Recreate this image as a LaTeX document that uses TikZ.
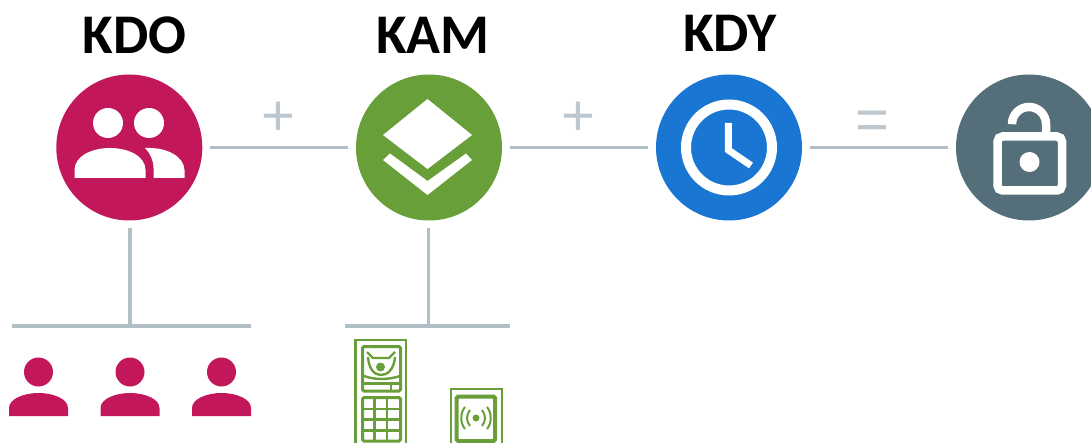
\documentclass[tikz,border=0pt]{standalone}
\usepackage{fontspec}
\setmainfont{Carlito}
\newfontfamily\opfont{Liberation Sans}
\definecolor{crim}{HTML}{C2185B}
\definecolor{leaf}{HTML}{689F38}
\definecolor{azure}{HTML}{1976D2}
\definecolor{slate}{HTML}{546E7A}
\definecolor{rule}{HTML}{B0BEC5}
\tikzset{
  badge/.style={circle,minimum size=146pt,inner sep=0pt,outer sep=8pt,fill=#1},
  title/.style={font=\fontsize{56}{56}\selectfont\bfseries,text=black,inner sep=0pt,anchor=base},
  oper/.style={font=\opfont\fontsize{58}{58}\selectfont,text=rule!85,inner sep=0pt},
  link/.style={draw=rule,line width=3.5pt},
  devouter/.style={draw=leaf,line width=2.6pt},
  devline/.style={draw=leaf,line width=3pt,rounded corners=1.5pt},
  devthin/.style={draw=leaf,line width=2.4pt},
  wave/.style={draw=leaf,line width=2pt},
}
\begin{document}
\begin{tikzpicture}[x=1pt,y=-1pt]
\useasboundingbox (0,0) rectangle (1091,443);
% badges
\node[badge=crim]  (kdo)  at (129.3,147.5) {};
\node[badge=leaf]  (kam)  at (429,147.5) {};
\node[badge=azure] (kdy)  at (729,147.5) {};
\node[badge=slate] (lock) at (1029,147.5) {};
% titles
\node[title] (tkdo) at (134.5,54) {KDO};
\node[title] (tkam) at (433,54) {KAM};
\node[title] (tkdy) at (730,52) {KDY};
% operators
\node[oper] (p1) at (278.5,119) {+};
\node[oper] (p2) at (578.5,119) {+};
\node[oper] (eq) at (872.5,125) {=};
% connectors
\draw[link] (kdo) -- (kam);
\draw[link] (kam) -- (kdy);
\draw[link] (kdy) -- (lock);
\coordinate (barA) at (130,326);
\coordinate (barAl) at (12,326);
\coordinate (barAr) at (251,326);
\coordinate (barB) at (428.3,326);
\coordinate (barBl) at (345,326);
\coordinate (barBr) at (510,326);
\draw[link] (barA |- kdo.south) -- (barA);
\draw[link] (barAl) -- (barAr);
\draw[link] (barB |- kam.south) -- (barB);
\draw[link] (barBl) -- (barBr);
% people icon
\fill[white] (108,123) circle (15) (149,123) circle (15);
\fill[white] (74.5,178) -- (74.5,170) .. controls (74.5,156) and (92,148) .. (110,148) .. controls (128,148) and (145.5,156) .. (145.5,170) -- (145.5,178) -- cycle;
\fill[white] (145,148) .. controls (168,147) and (184,157) .. (184.5,170) -- (184.5,178) -- (153.5,178) -- (153.5,168) .. controls (153.5,160) and (150,153) .. (145,148) -- cycle;
% layers icon
\fill[white] (427.5,99) -- (472,135) -- (427.5,169) -- (383,135) -- cycle;
\fill[white] (383,160) -- (390,153.5) -- (427.5,181) -- (466,153.5) -- (472,160) -- (427.5,195) -- cycle;
% clock icon
\draw[white,line width=10pt] (kdy.center) circle (43);
\draw[white,line width=7pt] (728.3,123) -- (728.3,150) -- (751,165.5);
% lock icon
\draw[white,line width=8.5pt,rounded corners=5pt] (997.5,136.5) rectangle (1062,190.5);
\draw[white,line width=8.5pt] (1012,122) -- (1012,124) arc[start angle=180,end angle=360,radius=17] -- (1046,133);
\fill[white] (1029.5,162) circle (10);
% persons
\foreach \px/\nm in {38.5/a,130/b,221.5/c}{
  \fill[crim] (\px,372) circle (14.5);
  \fill[crim] ({\px-29.5},416) -- ({\px-29.5},408) .. controls ({\px-29.5},399) and ({\px-15},393) .. (\px,393) .. controls ({\px+15},393) and ({\px+29.5},399) .. ({\px+29.5},408) -- ({\px+29.5},416) -- cycle;
}
% door station
\begin{scope}
\clip (340,330) rectangle (520,443);
\draw[devouter] (355.5,340) rectangle (406,450);
\draw[devline] (362.5,346.5) rectangle (400.5,391);
\draw[devline] (362.5,397.5) rectangle (400.5,441);
% speaker cup
\draw[devthin] (367,352) -- (373,358) -- (389,358) -- (395,352);
\draw[devthin] (368,357) .. controls (369,370) and (375,375) .. (381,375) .. controls (387,375) and (394,370) .. (395,357);
\fill[leaf] (380.5,367) circle (4.5);
\draw[devthin] (364,376) .. controls (375,380) and (388,380) .. (400,376);
\draw[devthin] (363,383.5) -- (400,383.5);
\draw[devthin] (391,384) -- (391,391);
% keypad
\draw[devthin] (374.5,398) -- (374.5,441) (387,398) -- (387,441);
\draw[devthin] (363,409) -- (400,409) (363,419.5) -- (400,419.5) (363,430.5) -- (400,430.5);
% reader
\draw[devouter] (451,389) rectangle (502,450);
\draw[devline,line width=4pt] (456.7,396.5) rectangle (495,441);
\fill[leaf] (476,418) circle (3.5);
\draw[wave] (470,410) .. controls (466,415) and (466,421) .. (470,426);
\draw[wave] (482,410) .. controls (486,415) and (486,421) .. (482,426);
\draw[wave] (465,407) .. controls (460,413) and (460,423) .. (465,429);
\draw[wave] (487,407) .. controls (492,413) and (492,423) .. (487,429);
\end{scope}
\end{tikzpicture}
\end{document}
